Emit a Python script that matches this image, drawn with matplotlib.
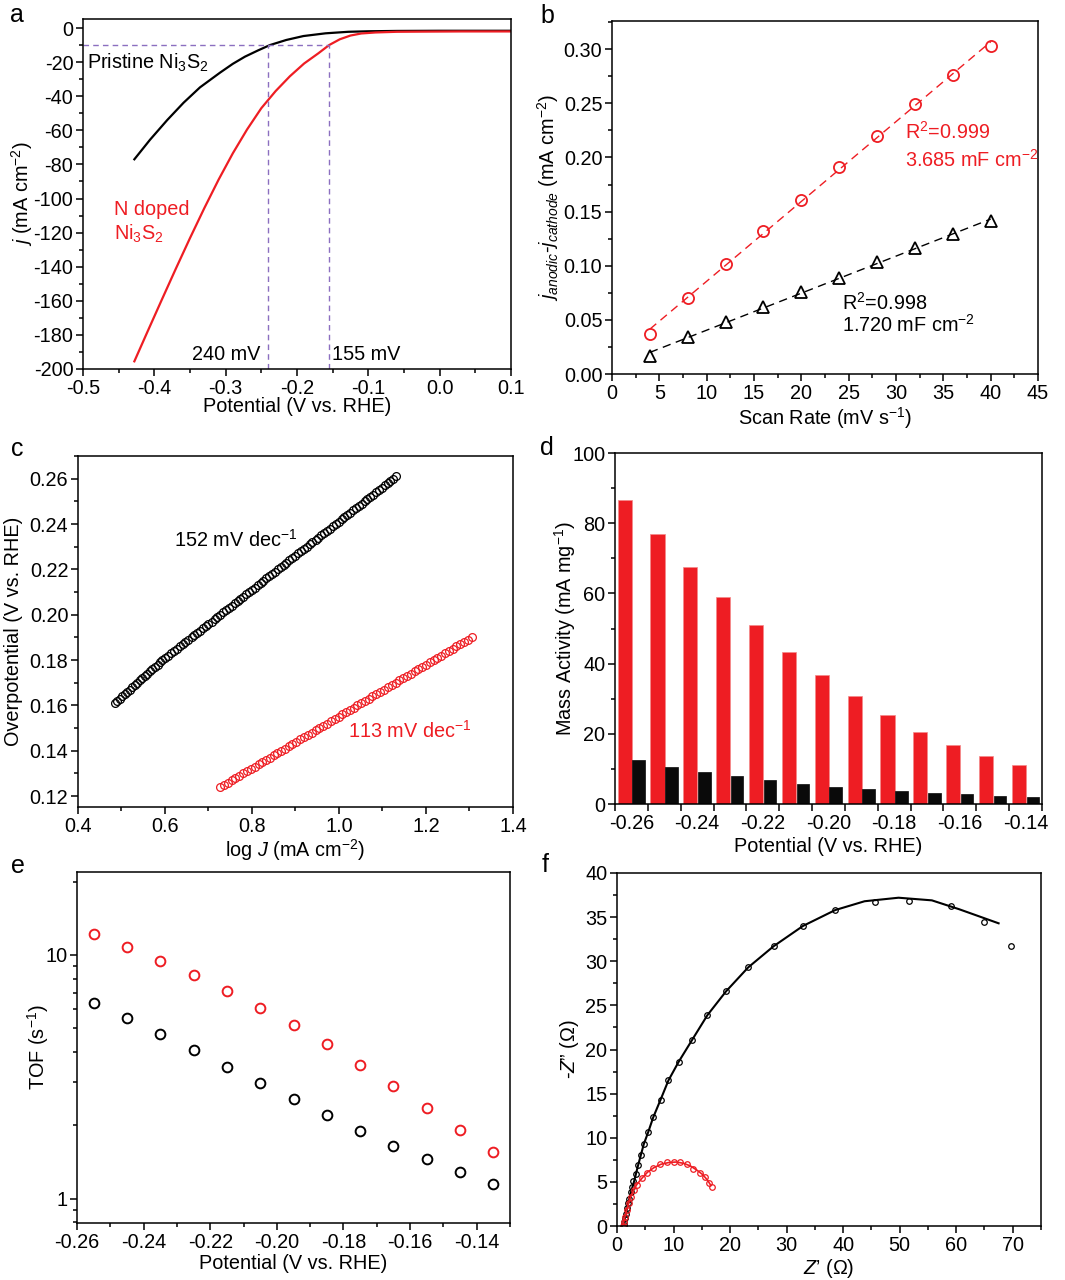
import numpy as np
import matplotlib
matplotlib.use("Agg")
import matplotlib.pyplot as plt

plt.rcParams["font.family"] = ["Liberation Sans", "DejaVu Sans"]
plt.rcParams["mathtext.fontset"] = "custom"
plt.rcParams["mathtext.rm"] = "Liberation Sans"
plt.rcParams["mathtext.it"] = "Liberation Sans:italic"
plt.rcParams["mathtext.default"] = "regular"
plt.rcParams["axes.unicode_minus"] = False

RED = "#ee1d23"
PURPLE = "#8b6fc0"
FS = 14.3

# ---- (a) polarisation curves ----
a_pristine_v = [-0.428, -0.406, -0.382, -0.359, -0.336, -0.308, -0.290, -0.273, -0.255,
                -0.238, -0.215, -0.191, -0.160, -0.128, -0.10, -0.06, 0.0, 0.05, 0.1]
a_pristine_j = [-77.0, -65.5, -54.0, -43.8, -34.8, -26.2, -21.0, -16.8, -13.2,
                -10.0, -7.0, -4.7, -3.1, -2.2, -1.9, -1.7, -1.6, -1.6, -1.6]
a_doped_v = [-0.428, -0.41, -0.39, -0.37, -0.35, -0.33, -0.31, -0.29, -0.27, -0.25,
             -0.23, -0.21, -0.19, -0.17, -0.155, -0.14, -0.125, -0.11, -0.09, -0.06,
             -0.02, 0.03, 0.1]
a_doped_j = [-195.5, -178.5, -159.8, -141.3, -123.2, -105.7, -89.0, -73.5, -59.5, -47.0,
             -37.0, -28.3, -20.8, -14.8, -10.0, -6.6, -4.4, -3.2, -2.6, -2.2,
             -2.1, -2.0, -2.0]
a_eta10 = [-0.240, -0.155]

# ---- (b) double-layer capacitance ----
b_scan = [4, 8, 12, 16, 20, 24, 28, 32, 36, 40]
b_doped = [0.037, 0.070, 0.102, 0.132, 0.161, 0.191, 0.220, 0.249, 0.276, 0.303]
b_pristine = [0.017, 0.034, 0.048, 0.062, 0.076, 0.089, 0.103, 0.116, 0.129, 0.141]

# ---- (c) Tafel plots ----
c_pristine_logj = [
    0.484, 0.490, 0.496, 0.501, 0.507, 0.513, 0.519, 0.525, 0.530, 0.536,
    0.542, 0.548, 0.554, 0.559, 0.565, 0.571, 0.577, 0.583, 0.588, 0.594,
    0.601, 0.607, 0.614, 0.621, 0.627, 0.634, 0.641, 0.647, 0.654, 0.661,
    0.667, 0.674, 0.680, 0.687, 0.694, 0.700, 0.707, 0.714, 0.720, 0.727,
    0.734, 0.740, 0.747, 0.753, 0.760, 0.767, 0.773, 0.780, 0.787, 0.793,
    0.800, 0.807, 0.813, 0.820, 0.826, 0.833, 0.840, 0.846, 0.853, 0.860,
    0.866, 0.873, 0.879, 0.886, 0.893, 0.899, 0.906, 0.913, 0.919, 0.926,
    0.933, 0.939, 0.946, 0.952, 0.959, 0.966, 0.972, 0.979, 0.986, 0.992,
    0.999, 1.006, 1.012, 1.019, 1.025, 1.032, 1.039, 1.045, 1.052, 1.059,
    1.065, 1.072, 1.079, 1.085, 1.092, 1.098, 1.105, 1.112, 1.118, 1.125, 1.132]
c_doped_logj = [
    0.727, 0.736, 0.745, 0.753, 0.762, 0.771, 0.780, 0.788, 0.797, 0.806,
    0.815, 0.823, 0.832, 0.841, 0.850, 0.858, 0.867, 0.876, 0.885, 0.893,
    0.902, 0.911, 0.920, 0.928, 0.937, 0.946, 0.955, 0.964, 0.972, 0.981,
    0.990, 0.999, 1.007, 1.016, 1.025, 1.034, 1.042, 1.051, 1.060, 1.069,
    1.077, 1.086, 1.095, 1.104, 1.112, 1.121, 1.130, 1.139, 1.147, 1.156,
    1.165, 1.174, 1.182, 1.191, 1.200, 1.209, 1.218, 1.226, 1.235, 1.244,
    1.253, 1.261, 1.270, 1.279, 1.288, 1.296, 1.305]
# overpotential sampled in 1 mV steps
c_pristine_eta = np.arange(161, 161 + len(c_pristine_logj)) / 1000.0
c_doped_eta = np.arange(124, 124 + len(c_doped_logj)) / 1000.0

# ---- (d) mass activity ----
d_potential = [-0.26, -0.25, -0.24, -0.23, -0.22, -0.21, -0.20,
               -0.19, -0.18, -0.17, -0.16, -0.15, -0.14]
d_doped = [86.7, 76.9, 67.6, 59.1, 50.9, 43.3, 36.7, 30.7, 25.4, 20.6, 16.8, 13.6, 11.1]
d_pristine = [12.4, 10.6, 9.2, 7.9, 6.7, 5.7, 4.9, 4.2, 3.6, 3.1, 2.8, 2.4, 2.1]

# ---- (e) TOF ----
e_potential = [-0.255, -0.245, -0.235, -0.225, -0.215, -0.205, -0.195,
               -0.185, -0.175, -0.165, -0.155, -0.145, -0.135]
e_doped = [12.16, 10.8, 9.48, 8.28, 7.14, 6.08, 5.14, 4.30, 3.55, 2.90, 2.36, 1.91, 1.56]
e_pristine = [6.37, 5.50, 4.72, 4.06, 3.47, 2.97, 2.56, 2.20, 1.90, 1.65, 1.45, 1.29, 1.145]

# ---- (f) Nyquist plots ----
f_pristine_re = [1.15, 1.25, 1.42, 1.6, 1.83, 2.0, 2.2, 2.43, 2.62, 2.9, 3.3, 3.7, 4.16,
                 4.75, 5.5, 6.4, 7.7, 9.1, 10.9, 13.3, 16.0, 19.3, 23.2, 27.7, 32.9,
                 38.6, 45.6, 51.7, 59.1, 64.9, 69.7]
f_pristine_im = [0.1, 0.5, 0.9, 1.4, 2.0, 2.6, 3.1, 3.8, 4.4, 5.1, 5.9, 6.9, 8.0,
                 9.3, 10.6, 12.3, 14.3, 16.5, 18.6, 21.1, 23.9, 26.6, 29.3, 31.7, 34.0,
                 35.8, 36.7, 36.8, 36.3, 34.4, 31.7]
f_pristine_fit_re = [1.1, 1.3, 1.6, 2.0, 2.5, 3.0, 3.7, 4.75, 5.5, 6.4, 7.7, 9.1, 10.9,
                     13.3, 16.0, 19.3, 23.2, 27.7, 32.9, 38.6, 43.8, 49.8, 55.7, 60.5,
                     64.0, 67.5]
f_pristine_fit_im = [0.0, 0.6, 1.5, 2.6, 3.9, 5.0, 6.8, 9.3, 10.6, 12.3, 14.3, 16.5, 18.6,
                     21.1, 23.9, 26.6, 29.3, 31.7, 34.0, 35.8, 36.8, 37.2, 36.9, 35.9,
                     35.1, 34.3]
f_doped_re = [1.07, 1.2, 1.4, 1.7, 2.1, 2.4, 3.0, 3.6, 4.5, 5.3, 6.4, 7.6, 8.8, 10.0,
              11.2, 12.4, 13.5, 14.6, 15.5, 16.3, 16.8]
f_doped_im = [0.0, 0.5, 1.06, 1.8, 2.6, 3.3, 4.1, 4.6, 5.4, 6.0, 6.6, 7.0, 7.2, 7.3,
              7.2, 7.0, 6.5, 6.0, 5.6, 4.9, 4.38]
f_doped_fit_re = [1.05, 1.3, 1.7, 2.2, 2.8, 3.5, 4.4, 5.4, 6.5, 7.8, 9.2, 10.5, 11.8,
                  13.0, 14.2, 15.2, 16.0, 16.6]
f_doped_fit_im = [0.0, 0.8, 1.8, 2.9, 3.9, 4.7, 5.4, 6.1, 6.6, 7.0, 7.2, 7.25, 7.1,
                  6.8, 6.3, 5.8, 5.2, 4.6]

W, H = 1065, 1280
fig = plt.figure(figsize=(W / 100, H / 100), dpi=100)


def panel(x0, y0, x1, y1):
    """Axes from pixel box (left, top, right, bottom)."""
    ax = fig.add_axes([x0 / W, 1 - y1 / H, (x1 - x0) / W, (y1 - y0) / H])
    for s in ax.spines.values():
        s.set_linewidth(1.1)
    ax.tick_params(which="both", direction="out", top=False, right=False,
                   labelsize=FS, width=1.1, pad=2)
    ax.tick_params(which="major", length=5)
    ax.tick_params(which="minor", length=3)
    return ax


def labels(ax, xl, yl, xoff, yoff):
    ax.set_xlabel(xl, fontsize=FS)
    ax.set_ylabel(yl, fontsize=FS)
    ax.xaxis.set_label_coords(0.5, xoff)
    ax.yaxis.set_label_coords(yoff, 0.5)
    ax.xaxis.label.set_va("center")
    ax.yaxis.label.set_va("center")


# (a)
ax = panel(83, 19, 511, 369)
ax.plot(a_pristine_v, a_pristine_j, color="black", lw=1.6)
ax.plot(a_doped_v, a_doped_j, color=RED, lw=1.6)
ax.plot([-0.5, a_eta10[1]], [-10, -10], color=PURPLE, lw=1.0, dashes=(4, 3))
for v in a_eta10:
    ax.plot([v, v], [-200, -10], color=PURPLE, lw=1.0, dashes=(4, 3))
ax.set_xlim(-0.5, 0.1)
ax.set_ylim(-200, 5.3)
ax.set_xticks(np.arange(-0.5, 0.11, 0.1))
ax.set_xticklabels(["-0.5", "-0.4", "-0.3", "-0.2", "-0.1", "0.0", "0.1"])
ax.set_xticks(np.arange(-0.45, 0.1, 0.1), minor=True)
ax.set_yticks(np.arange(-200, 1, 20))
ax.set_yticks(np.arange(-190, 0, 20), minor=True)
ax.text(-0.494, -20.5, "Pristine Ni$_3$S$_2$", fontsize=FS, va="center")
ax.text(-0.457, -106.5, "N doped", fontsize=FS, va="center", color=RED)
ax.text(-0.457, -120.5, "Ni$_3$S$_2$", fontsize=FS, va="center", color=RED)
ax.text(-0.252, -191.6, "240 mV", fontsize=FS, va="center", ha="right")
ax.text(-0.151, -191.6, "155 mV", fontsize=FS, va="center", ha="left")
labels(ax, "Potential (V vs. RHE)", r"$\mathit{j}$ (mA cm$^{-2}$)", -0.108, -0.143)

# (b)
ax = panel(612, 21, 1038, 374)
for ys, col, mk in [(b_doped, RED, "o"), (b_pristine, "black", "^")]:
    k, c0 = np.polyfit(b_scan, ys, 1)
    xf = np.array([b_scan[0], b_scan[-1]])
    ax.plot(xf, k * xf + c0, color=col, lw=1.0, dashes=(6, 4))
    ax.plot(b_scan, ys, mk, mfc="none", mec=col, mew=1.3, ms=8 if mk == "o" else 8.5)
ax.set_xlim(0, 45)
ax.set_ylim(0, 0.326)
ax.set_xticks(np.arange(0, 46, 5))
ax.set_xticks(np.arange(2.5, 45, 5), minor=True)
ax.set_yticks(np.arange(0, 0.31, 0.05))
ax.set_yticklabels([f"{v:.2f}" for v in np.arange(0, 0.31, 0.05)])
ax.set_yticks(np.arange(0.025, 0.33, 0.05), minor=True)
ax.text(30.9, 0.224, "R$^2$=0.999", fontsize=FS, color=RED, va="center")
ax.text(30.9, 0.198, "3.685 mF cm$^{-2}$", fontsize=FS, color=RED, va="center")
ax.text(24.3, 0.0653, "R$^2$=0.998", fontsize=FS, va="center")
ax.text(24.3, 0.0453, "1.720 mF cm$^{-2}$", fontsize=FS, va="center")
labels(ax, "Scan Rate (mV s$^{-1}$)",
       r"$\mathit{j}_{\mathit{anodic}}$-$\mathit{j}_{\mathit{cathode}}$ (mA cm$^{-2}$)",
       -0.125, -0.150)

# (c)
ax = panel(78, 456, 513, 807)
ax.plot(c_pristine_logj, c_pristine_eta, "o", mfc="none", mec="black", mew=0.9, ms=5.6)
ax.plot(c_doped_logj, c_doped_eta, "o", mfc="none", mec=RED, mew=0.9, ms=5.6)
ax.set_xlim(0.4, 1.4)
ax.set_ylim(0.1152, 0.2697)
ax.set_xticks(np.arange(0.4, 1.41, 0.2))
ax.set_xticklabels(["0.4", "0.6", "0.8", "1.0", "1.2", "1.4"])
ax.set_xticks(np.arange(0.5, 1.4, 0.2), minor=True)
ax.set_yticks(np.arange(0.12, 0.261, 0.02))
ax.set_yticklabels([f"{v:.2f}" for v in np.arange(0.12, 0.261, 0.02)])
ax.set_yticks(np.arange(0.13, 0.27, 0.02), minor=True)
ax.text(0.62, 0.2328, "152 mV dec$^{-1}$", fontsize=FS, va="center")
ax.text(1.02, 0.149, "113 mV dec$^{-1}$", fontsize=FS, va="center", color=RED)
labels(ax, r"log $\mathit{J}$ (mA cm$^{-2}$)", "Overpotential (V vs. RHE)", -0.122, -0.149)

# (d)
ax = panel(615, 453, 1042, 804)
idx = np.arange(len(d_potential))
ax.bar(idx - 0.205, d_doped, width=0.43, color=RED, edgecolor="#f48a8a", lw=0.5)
ax.bar(idx + 0.22, d_pristine, width=0.38, color="#0a0a0a", edgecolor="#0a0a0a", lw=0.5)
ax.set_xlim(-0.5, len(d_potential) - 0.5)
ax.set_ylim(0, 100)
ax.set_xticks(np.arange(len(d_potential) + 1) - 0.5)
ax.set_xticklabels([])
ax.set_xticks(idx[::2], minor=True)
ax.set_xticklabels([f"{v:.2f}" for v in d_potential[::2]], minor=True)
ax.tick_params(axis="x", which="minor", length=0, pad=7)
ax.set_yticks(np.arange(0, 101, 20))
ax.set_yticks(np.arange(10, 100, 20), minor=True)
labels(ax, "Potential (V vs. RHE)", "Mass Activity (mA mg$^{-1}$)", -0.12, -0.117)

# (e)
ax = panel(77, 872, 510, 1223)
ax.set_yscale("log")
ax.plot(e_potential, e_doped, "o", mfc="none", mec=RED, mew=1.4, ms=7)
ax.plot(e_potential, e_pristine, "o", mfc="none", mec="black", mew=1.4, ms=7)
ax.set_xlim(-0.26, -0.13)
ax.set_ylim(0.795, 21.9)
ax.set_xticks(np.arange(-0.26, -0.139, 0.02))
ax.set_xticklabels([f"{v:.2f}" for v in np.arange(-0.26, -0.139, 0.02)])
ax.set_xticks(np.arange(-0.25, -0.129, 0.02), minor=True)
ax.set_yticks([1, 10])
ax.set_yticklabels(["1", "10"])
ax.set_yticks([0.8, 0.9, 2, 3, 4, 5, 6, 7, 8, 9, 20], minor=True)
ax.set_yticklabels([], minor=True)
labels(ax, "Potential (V vs. RHE)", "TOF (s$^{-1}$)", -0.116, -0.090)

# (f)
ax = panel(617, 873, 1041, 1226)
ax.plot(f_pristine_fit_re, f_pristine_fit_im, color="black", lw=1.5)
ax.plot(f_pristine_re, f_pristine_im, "o", mfc="none", mec="black", mew=0.9, ms=4)
ax.plot(f_doped_fit_re, f_doped_fit_im, color=RED, lw=1.2)
ax.plot(f_doped_re, f_doped_im, "o", mfc="none", mec=RED, mew=0.9, ms=4)
ax.set_xlim(0, 75)
ax.set_ylim(0, 40)
ax.set_xticks(np.arange(0, 71, 10))
ax.set_xticks(np.arange(5, 76, 10), minor=True)
ax.set_yticks(np.arange(0, 41, 5))
ax.set_yticks(np.arange(2.5, 40, 5), minor=True)
labels(ax, "$\\mathit{Z}$\u2019 (\u03a9)", "-$\\mathit{Z}$\u201d (\u03a9)", -0.119, -0.111)

for letter, (px, py) in zip("abcdef", [(17, 15), (547, 16), (17, 449),
                                       (547, 448), (18, 866), (545, 865)]):
    fig.text(px / W, 1 - py / H, letter, fontsize=18, ha="center", va="center")

fig.savefig("out.png", dpi=100)
